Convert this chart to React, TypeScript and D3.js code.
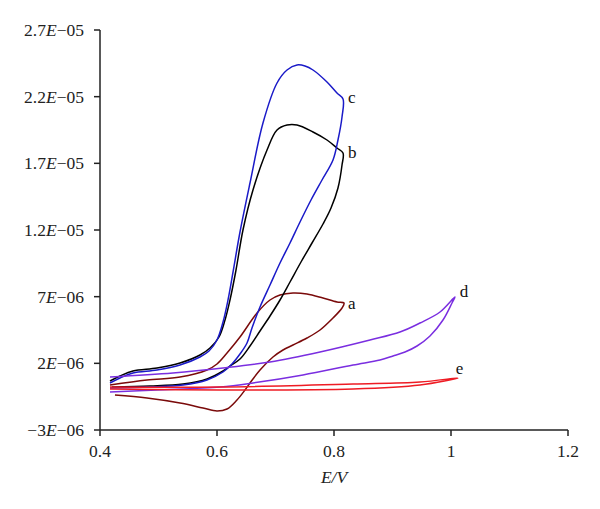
import React from "react";
import * as d3 from "d3";

// Cyclic voltammograms: [E (V), I (×1e-6 A)]
const curveA: [number, number][] = [
  [0.4256, -0.375], [0.4803, -0.6], [0.5368, -0.975], [0.5761, -1.35], [0.6, -1.575],
  [0.6171, -1.425], [0.6342, -0.75], [0.6479, 0.0], [0.6564, 0.525], [0.6735, 1.5],
  [0.6957, 2.475], [0.7128, 3.0], [0.7299, 3.375], [0.7538, 3.9], [0.7761, 4.5],
  [0.7983, 5.4], [0.8137, 6.15], [0.8171, 6.525], [0.8051, 6.6], [0.7812, 6.9],
  [0.7538, 7.2], [0.7299, 7.275], [0.7077, 7.125], [0.6906, 6.75], [0.6684, 5.775],
  [0.6393, 3.975], [0.6171, 2.775], [0.6, 1.95], [0.5829, 1.5], [0.5368, 0.975],
  [0.4803, 0.75], [0.4171, 0.375],
];

const curveB: [number, number][] = [
  [0.4171, 0.675], [0.4342, 1.05], [0.4564, 1.425], [0.4974, 1.65], [0.5368, 2.025],
  [0.5709, 2.625], [0.588, 3.15], [0.6034, 3.975], [0.6137, 5.25], [0.6222, 6.75],
  [0.6325, 9.0], [0.6444, 12.0], [0.6615, 15.0], [0.6855, 18.0], [0.7026, 19.5],
  [0.7197, 19.875], [0.7368, 19.875], [0.7641, 19.35], [0.788, 18.75], [0.8051, 18.15],
  [0.8154, 17.775], [0.8137, 16.875], [0.8068, 15.15], [0.7949, 13.65], [0.7812, 12.45],
  [0.7624, 11.025], [0.7436, 9.6], [0.7248, 8.1], [0.7077, 6.75], [0.6906, 5.55],
  [0.6735, 4.425], [0.6564, 3.3], [0.6393, 2.325], [0.6222, 1.8], [0.6103, 1.425],
  [0.5829, 0.825], [0.5419, 0.45], [0.4855, 0.3], [0.4205, 0.225],
];

const curveC: [number, number][] = [
  [0.4171, 0.525], [0.4342, 0.9], [0.4564, 1.275], [0.4974, 1.5], [0.5368, 1.875],
  [0.5709, 2.475], [0.5863, 2.925], [0.6, 3.75], [0.6103, 5.1], [0.6188, 6.75],
  [0.6274, 8.85], [0.6393, 11.85], [0.6564, 15.525], [0.6786, 20.025], [0.7026, 23.025],
  [0.7197, 24.0], [0.7368, 24.375], [0.7504, 24.3], [0.7641, 24.0], [0.788, 23.1],
  [0.8051, 22.275], [0.8154, 21.825], [0.8137, 20.475], [0.8068, 18.75], [0.7983, 17.25],
  [0.7795, 15.75], [0.7607, 14.25], [0.7419, 12.6], [0.7248, 11.025], [0.7077, 9.525],
  [0.6906, 7.875], [0.6735, 6.225], [0.6598, 4.65], [0.6513, 3.525], [0.6393, 2.7],
  [0.6256, 1.95], [0.6103, 1.35], [0.5829, 0.75], [0.5419, 0.375], [0.4855, 0.225],
  [0.4171, 0.15],
];

const curveD: [number, number][] = [
  [0.4171, 0.975], [0.5248, 1.275], [0.6103, 1.65], [0.6906, 2.1], [0.7761, 2.85],
  [0.8615, 3.75], [0.9128, 4.35], [0.947, 5.025], [0.9812, 5.85], [1.0068, 6.975],
  [1.0017, 6.525], [0.9863, 5.25], [0.9641, 4.05], [0.9419, 3.3], [0.9214, 2.85],
  [0.9009, 2.55], [0.8786, 2.25], [0.8325, 1.875], [0.747, 1.125], [0.6615, 0.525],
  [0.6051, 0.225], [0.4974, 0.0], [0.4171, -0.15],
];

const curveE: [number, number][] = [
  [0.4171, 0.225], [0.6051, 0.225], [0.8325, 0.45], [0.947, 0.6], [1.012, 0.9],
  [0.947, 0.375], [0.8325, 0.075], [0.6051, 0.0], [0.4171, 0.075],
];

const xTicks = [0.4, 0.6, 0.8, 1, 1.2];
const yTicks = [-3, 2, 7, 12, 17, 22, 27];
const yTickMant = ["−3", "2", "7", "1.2", "1.7", "2.2", "2.7"];
const yTickExp = ["−06", "−06", "−06", "−05", "−05", "−05", "−05"];

const series = [
  { name: "a", data: curveA, color: "#7a0a0a", lx: 0.819, ly: 6.1 },
  { name: "b", data: curveB, color: "#000000", lx: 0.819, ly: 17.4 },
  { name: "c", data: curveC, color: "#1a1ac8", lx: 0.819, ly: 21.5 },
  { name: "d", data: curveD, color: "#7a2ee0", lx: 1.01, ly: 7.0 },
  { name: "e", data: curveE, color: "#ee1c24", lx: 1.003, ly: 1.2 },
];

export default function App() {
  const x = d3.scaleLinear().domain([0.4, 1.2]).range([100, 568]);
  const y = d3.scaleLinear().domain([-3, 27]).range([430, 30]);
  const line = d3
    .line<[number, number]>()
    .x((d) => x(d[0]))
    .y((d) => y(d[1]))
    .curve(d3.curveCatmullRom.alpha(0.5));
  const font = "'Liberation Serif', 'Times New Roman', serif";
  return (
    <svg width={600} height={509} style={{ position: "absolute", left: 0, top: 0, background: "#fff" }} fontFamily={font}>
      <rect width={600} height={509} fill="#fff" />
      <line x1={100} x2={100} y1={y(27)} y2={y(-3)} stroke="#222" strokeWidth={1.5} />
      <line x1={100} x2={x(1.2)} y1={430} y2={430} stroke="#222" strokeWidth={1.5} />
      {yTicks.map((t, i) => (
        <g key={"y" + t}>
          <line x1={94} x2={100} y1={y(t)} y2={y(t)} stroke="#222" strokeWidth={1.5} />
          <text x={84} y={y(t) + 6} textAnchor="end" fontSize={17.5} fill="#222">
            {yTickMant[i]}
            <tspan fontStyle="italic">E</tspan>
            {yTickExp[i]}
          </text>
        </g>
      ))}
      {xTicks.map((t) => (
        <g key={"x" + t}>
          <line x1={x(t)} x2={x(t)} y1={430} y2={436} stroke="#222" strokeWidth={1.5} />
          <text x={x(t)} y={457} textAnchor="middle" fontSize={17.5} fill="#222">
            {String(t)}
          </text>
        </g>
      ))}
      <text x={x(0.8)} y={483} textAnchor="middle" fontSize={17.5} fontStyle="italic" fill="#222">
        E/V
      </text>
      {series.map((s) => (
        <path key={s.name} d={line(s.data) || ""} fill="none" stroke={s.color} strokeWidth={1.5} />
      ))}
      {series.map((s) => (
        <text key={"l" + s.name} x={x(s.lx) + 3} y={y(s.ly)} fontSize={17} fill="#111">
          {s.name}
        </text>
      ))}
    </svg>
  );
}
